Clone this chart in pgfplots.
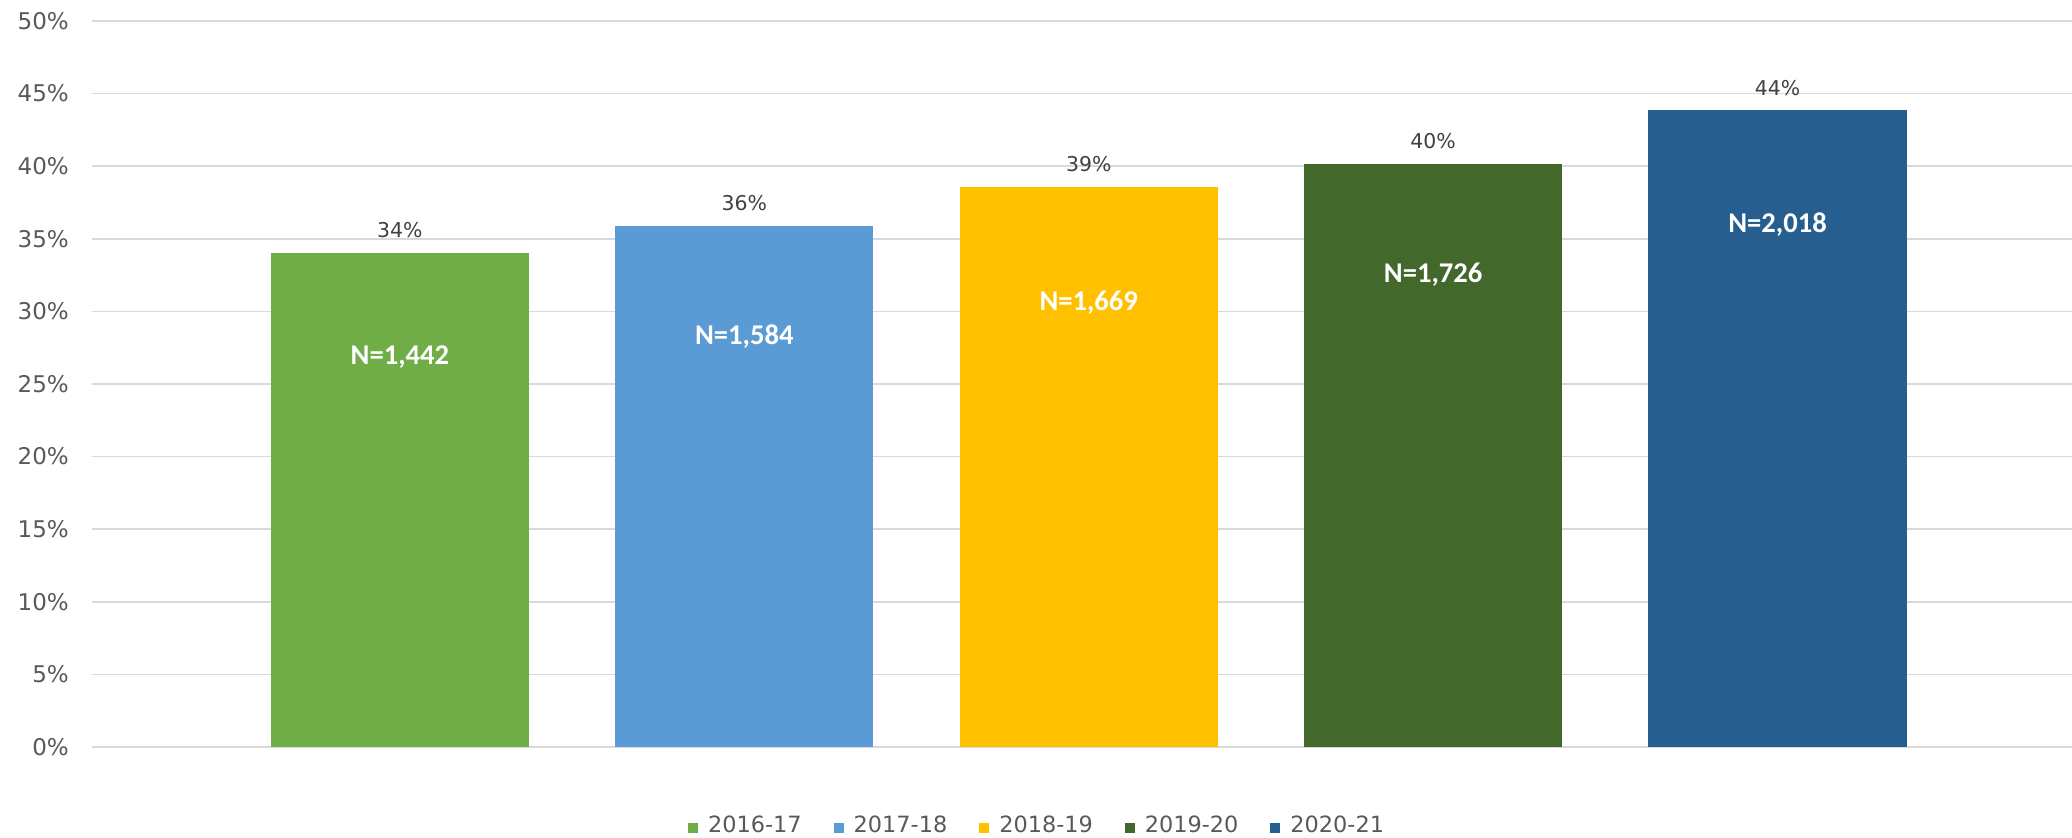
\documentclass[border=0pt]{standalone}
\usepackage{fontspec}
\setmainfont{DejaVu Sans}
\newfontfamily\carlito{Carlito}
\usepackage{pgfplots}
\pgfplotsset{compat=1.18}
\definecolor{cA}{HTML}{70AD47}
\definecolor{cB}{HTML}{5B9BD5}
\definecolor{cC}{HTML}{FFC000}
\definecolor{cD}{HTML}{43682B}
\definecolor{cE}{HTML}{265E8F}
\definecolor{gridc}{HTML}{D9D9D9}
\definecolor{tickc}{HTML}{595959}
\definecolor{labc}{HTML}{404040}
\begin{document}
\begin{tikzpicture}
\begin{axis}[
  at={(0,0)}, anchor=south west,
  scale only axis, width=990pt, height=363pt,
  xmin=-0.894, xmax=4.855, ymin=0, ymax=50,
  xtick=\empty, ytick={0,5,...,50},
  yticklabel={\pgfmathprintnumber{\tick}\%},
  /pgf/number format/assume math mode=true,
  yticklabel style={font=\fontsize{11.5}{13}\selectfont, text=tickc, inner sep=0pt, anchor=east, xshift=-11.4pt},
  ymajorgrids, grid style={gridc, line width=0.75pt},
  axis line style={draw=none}, major tick length=0pt,
  legend columns=5,
  legend style={draw=none, fill=none, at={(axis description cs:0.4768,0)}, anchor=center, yshift=-39.5pt,
    font=\fontsize{11.2}{13}\selectfont, text=tickc, inner sep=0pt,
    nodes={inner sep=0pt, anchor=base west},
    /tikz/every odd column/.append style={column sep=5pt},
    /tikz/every even column/.append style={column sep=16pt}},
  nodes near coords={\pgfmathprintnumber[fixed,precision=0]{\pgfplotspointmeta}\%},
  nodes near coords style={font=\fontsize{10.2}{12}\selectfont, text=labc, anchor=base, inner sep=0pt, yshift=7.5pt},
  mybar/.style={ybar, bar width=0.75, bar shift=0pt, draw=none, fill=#1,
    legend image code/.code={\fill[fill=#1, draw=none] (0pt,0pt) rectangle (5pt,5pt);}},
]
\addplot[mybar=cA] coordinates {(0,34.04)};
\addlegendentry{2016-17}
\addplot[mybar=cB] coordinates {(1,35.9)};
\addlegendentry{2017-18}
\addplot[mybar=cC] coordinates {(2,38.6)};
\addlegendentry{2018-19}
\addplot[mybar=cD] coordinates {(3,40.16)};
\addlegendentry{2019-20}
\addplot[mybar=cE] coordinates {(4,43.87)};
\addlegendentry{2020-21}
\begin{scope}[every node/.style={font=\carlito\bfseries\fontsize{14.3}{16}\selectfont, text=white, inner sep=0pt}]
\node at (axis cs:0,26.88) {N=1,442};
\node at (axis cs:1,28.24) {N=1,584};
\node at (axis cs:2,30.61) {N=1,669};
\node at (axis cs:3,32.51) {N=1,726};
\node at (axis cs:4,35.95) {N=2,018};
\end{scope}
\end{axis}
\pgfresetboundingbox
\path (-46pt,-45pt) rectangle (990pt,373.5pt);
\end{tikzpicture}
\end{document}
